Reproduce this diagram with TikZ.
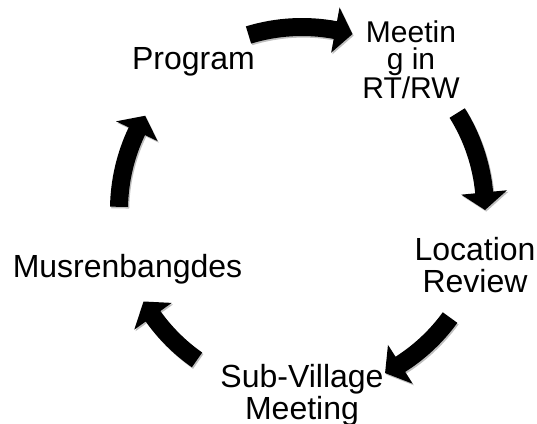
\documentclass[tikz,border=0pt]{standalone}
\usepackage{fontspec}
\setmainfont{Liberation Sans}
\tikzset{
  lbl/.style={font=\fontsize{32}{32}\selectfont, align=center, inner sep=0pt, text=black},
  lblsmall/.style={font=\fontsize{30}{27}\selectfont, align=center, inner sep=0pt, text=black},
  blockarrow/.style={fill=black},
  arrowshadow/.style={fill=black, opacity=0.25}
}
% curved block arrow along the cycle: #1 tail angle, #2 tip angle
\newcommand{\cycarrow}[2]{%
  \fill[arrowshadow, shift={(1.2pt,-1.6pt)}]
    (#1:192pt) arc[start angle=#1, end angle={#2+5.5}, radius=192pt]
    -- ({#2+5.5}:206pt) -- (#2:183pt) -- ({#2+5.5}:160pt) -- ({#2+5.5}:174pt)
    arc[start angle={#2+5.5}, end angle=#1, radius=174pt] -- cycle;
  \fill[blockarrow]
    (#1:192pt) arc[start angle=#1, end angle={#2+5.5}, radius=192pt]
    -- ({#2+5.5}:206pt) -- (#2:183pt) -- ({#2+5.5}:160pt) -- ({#2+5.5}:174pt)
    arc[start angle={#2+5.5}, end angle=#1, radius=174pt] -- cycle;}
\begin{document}
\begin{tikzpicture}
  \useasboundingbox[fill=white] (0pt,0pt) rectangle (537pt,423pt);
  \coordinate (C) at (302pt,213pt);
  \node[lbl] (prog) at (193.5pt,361pt) {Program};
  \node[lblsmall] (meet) at (411pt,363pt) {Meetin\\g in\\RT/RW};
  \node[lbl] (loc) at (475pt,157.5pt) {Location\\Review};
  \node[lbl] (sub) at (302pt,28pt) {Sub-Village\\Meeting};
  \node[lbl] (mus) at (127.5pt,154pt) {Musrenbangdes};
  \begin{scope}[shift={(C)}]
    \cycarrow{107}{74}
    \cycarrow{32}{0}
    \cycarrow{-36}{-63}
    \cycarrow{235}{210}
    \cycarrow{179}{149}
  \end{scope}
\end{tikzpicture}
\end{document}
